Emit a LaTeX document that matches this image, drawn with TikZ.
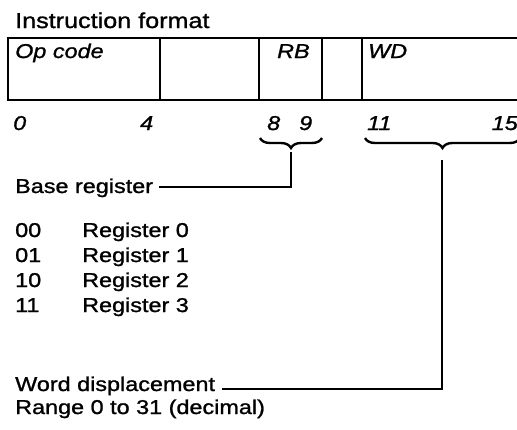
\documentclass[tikz,border=0pt]{standalone}
\usepackage{fontspec}
\setmainfont{Liberation Sans}[FakeStretch=1.17,FakeBold=1.2]
\usetikzlibrary{decorations.pathreplacing}
\begin{document}
\begin{tikzpicture}[x=1pt,y=-1pt,
  txt/.style={anchor=base west,inner sep=0pt,font=\fontsize{20}{24}\selectfont},
  lbl/.style={anchor=base west,inner sep=0pt,font=\fontsize{20}{24}\selectfont\itshape},
  rlbl/.style={anchor=base east,inner sep=0pt,font=\fontsize{20}{24}\selectfont\itshape},
  frame/.style={line width=2pt},
  conn/.style={line width=2pt},
  brc/.style={line width=2.4pt,decorate,decoration={brace,amplitude=10pt}}]
\useasboundingbox (0,0) rectangle (517,429);
% title
\node[txt,font=\fontsize{21.5}{25}\selectfont] (title) at (15,28) {Instruction format};
% register frame
\draw[frame] (530,38) -- (8,38) -- (8,100) -- (530,100);
\draw[frame] (160,38) -- (160,100);
\draw[frame] (259,38) -- (259,100);
\draw[frame] (322,38) -- (322,100);
\draw[frame] (362,38) -- (362,100);
% field labels
\node[lbl] (op) at (15,58) {Op code};
\node[lbl] (rb) at (277,58) {RB};
\node[lbl] (wd) at (368,58) {WD};
% bit numbers
\node[lbl] (b0) at (13,130) {0};
\node[lbl] (b4) at (140,130) {4};
\node[lbl] (b8) at (267,130) {8};
\node[lbl] (b9) at (299,130) {9};
\node[lbl] (b11) at (367,130) {11};
\node[rlbl] (b15) at (518,130) {15};
% braces
\draw[brc] (322,138) -- (260,138);
\draw[brc] (520,138) -- (365,138);
\coordinate (tipA) at (291,152);
\coordinate (tipB) at (442,160);
% base register
\node[txt] (basereg) at (15,193) {Base register};
\coordinate (cA) at (291,187);
\draw[conn] ([xshift=6pt]basereg.east |- cA) -- (cA) -- (tipA);
% register list
\node[txt] (c00) at (15,237) {00};
\node[txt] (c01) at (15,262) {01};
\node[txt] (c10) at (15,287) {10};
\node[txt] (c11) at (15,312) {11};
\node[txt] (r0) at (82,237) {Register 0};
\node[txt] (r1) at (82,262) {Register 1};
\node[txt] (r2) at (82,287) {Register 2};
\node[txt] (r3) at (82,312) {Register 3};
% word displacement
\node[txt] (wdisp) at (15,391) {Word displacement};
\node[txt] (range) at (15,414) {Range 0 to 31 (decimal)};
\coordinate (cB) at (442,389);
\draw[conn] ([xshift=7pt]wdisp.east |- cB) -- (cB) -- (tipB);
\end{tikzpicture}
\end{document}
